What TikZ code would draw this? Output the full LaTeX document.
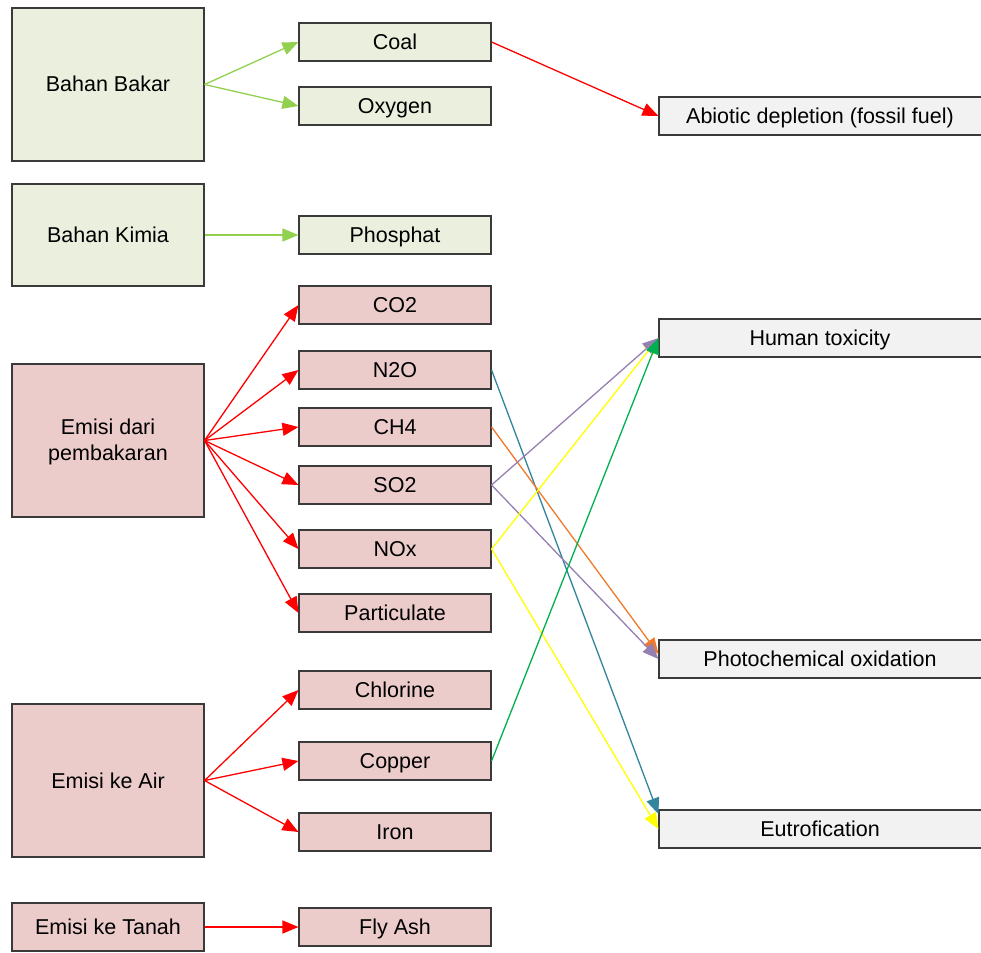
\documentclass[tikz,border=0pt]{standalone}
\usepackage{fontspec}
\setmainfont{Liberation Sans}
\usetikzlibrary{arrows.meta}
\definecolor{fuelfill}{HTML}{EBF0DE}
\definecolor{emisfill}{HTML}{EBCCCB}
\definecolor{impfill}{HTML}{F2F2F2}
\definecolor{boxline}{HTML}{3A3A3A}
\definecolor{lgreen}{HTML}{92D050}
\definecolor{teal}{HTML}{31859C}
\definecolor{orng}{HTML}{F07A2A}
\definecolor{purp}{HTML}{9680B2}
\definecolor{yell}{HTML}{FFFF00}
\definecolor{dgreen}{HTML}{00B050}
\begin{document}
\begin{tikzpicture}[x=1pt,y=-1pt,
  lbl/.style={font=\fontsize{21.5}{26}\selectfont,text height=16.5pt,text depth=1.5pt},
  box/.style={draw=boxline,line width=1.1pt,inner sep=0pt,align=center,lbl},
  srcbox/.style={box,minimum width=192pt},
  midbox/.style={box,minimum width=192pt,minimum height=38pt},
  impbox/.style={box,fill=impfill,minimum height=38pt,minimum width=340pt},
  link/.style={line width=1.3pt,-{Triangle[length=16pt,width=13pt]}},
]
\clip (0,0) rectangle (981,952);
\fill[white] (0,0) rectangle (981,952);

% source groups
\node[srcbox,fill=fuelfill,minimum height=153pt] (bakar) at (108,84.5) {Bahan Bakar};
\node[srcbox,fill=fuelfill,minimum height=102pt] (kimia) at (108,235) {Bahan Kimia};
\node[srcbox,fill=emisfill,minimum height=153pt,text height=42pt,text depth=3pt] (bakaran) at (108,440.5) {Emisi dari\\pembakaran};
\node[srcbox,fill=emisfill,minimum height=153pt] (air) at (108,780.5) {Emisi ke Air};
\node[srcbox,fill=emisfill,minimum height=48pt] (tanah) at (108,927) {Emisi ke Tanah};

% inventory items
\node[midbox,fill=fuelfill] (coal) at (395,42) {Coal};
\node[midbox,fill=fuelfill] (oxygen) at (395,106) {Oxygen};
\node[midbox,fill=fuelfill] (phos) at (395,235) {Phosphat};
\node[midbox,fill=emisfill] (co2) at (395,305) {CO2};
\node[midbox,fill=emisfill] (n2o) at (395,370) {N2O};
\node[midbox,fill=emisfill] (ch4) at (395,427) {CH4};
\node[midbox,fill=emisfill] (so2) at (395,485) {SO2};
\node[midbox,fill=emisfill] (nox) at (395,549) {NOx};
\node[midbox,fill=emisfill] (part) at (395,613) {Particulate};
\node[midbox,fill=emisfill] (chlor) at (395,690) {Chlorine};
\node[midbox,fill=emisfill] (copper) at (395,761) {Copper};
\node[midbox,fill=emisfill] (iron) at (395,832) {Iron};
\node[midbox,fill=emisfill] (fly) at (395,927) {Fly Ash};

% impact categories (run past the right edge)
\node[impbox] (abiotic) at (829,116) {};
\node[lbl] at (820,116) {Abiotic depletion (fossil fuel)};
\node[impbox] (human) at (829,338) {};
\node[lbl] at (820,338) {Human toxicity};
\node[impbox] (photo) at (829,659) {};
\node[lbl] at (820,659) {Photochemical oxidation};
\node[impbox] (eutro) at (829,829) {};
\node[lbl] at (820,829) {Eutrofication};

% source to inventory
\draw[link,lgreen] (bakar.east) -- (coal.west);
\draw[link,lgreen] (bakar.east) -- (oxygen.west);
\draw[link,lgreen] (kimia.east) -- (phos.west);
\foreach \t in {co2,n2o,ch4,so2,nox,part}
  \draw[link,red] (bakaran.east) -- (\t.west);
\foreach \t in {chlor,copper,iron}
  \draw[link,red] (air.east) -- (\t.west);
\draw[link,red] (tanah.east) -- (fly.west);

% inventory to impact
\draw[link,red] (coal.east) -- (abiotic.west);
\draw[link,teal] (n2o.east) -- ([yshift=15pt]eutro.west);
\draw[link,orng] (ch4.east) -- ([yshift=5pt]photo.west);
\draw[link,purp] (so2.east) -- (photo.west);
\draw[link,yell] (nox.east) -- (eutro.west);
\draw[link,yell] (nox.east) -- (human.west);
\draw[link,purp] (so2.east) -- (human.west);
\draw[link,dgreen] (copper.east) -- (human.west);
\end{tikzpicture}
\end{document}
